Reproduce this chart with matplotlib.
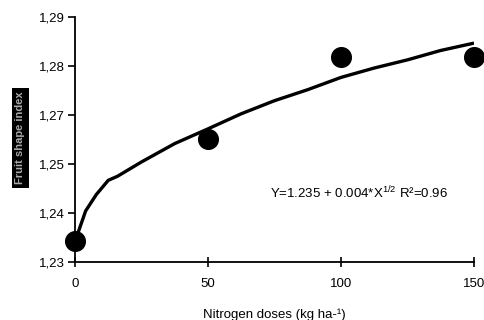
import matplotlib
matplotlib.use('Agg')
import matplotlib.pyplot as plt

plt.rcParams['font.family'] = ['Liberation Sans', 'DejaVu Sans']
plt.rcParams['mathtext.fontset'] = 'custom'
plt.rcParams['mathtext.rm'] = 'Liberation Sans'
plt.rcParams['mathtext.default'] = 'regular'

# observed means
doses = [0, 50, 100, 150]
fruit_index = [1.2352, 1.2601, 1.2802, 1.2802]

# fitted curve as drawn
curve_x = [0, 4, 8, 12.5, 16, 25, 37.5, 50, 62.5, 75, 87.5, 100, 112.5, 125, 137.5, 150]
curve_y = [1.235, 1.2425, 1.2465, 1.2500, 1.2510, 1.2545, 1.2590, 1.2626, 1.2663,
           1.2695, 1.2722, 1.2752, 1.2775, 1.2795, 1.2818, 1.2836]

y_ticks = [1.23, 1.242, 1.254, 1.266, 1.278, 1.29]
x_ticks = [0, 50, 100, 150]

fig = plt.figure(figsize=(4.85, 3.2), dpi=100)
ax = fig.add_axes([0.1546, 0.18125, 0.8227, 0.7657])

ax.plot(curve_x, curve_y, color='black', lw=2.4, solid_capstyle='butt', zorder=2)
ax.scatter(doses, fruit_index, s=200, color='black', zorder=3, clip_on=False)

ax.set_xlim(0, 150)
ax.set_ylim(1.23, 1.29)
ax.set_xticks(x_ticks)
ax.set_yticks(y_ticks)
ax.set_yticklabels([('%.2f' % v).replace('.', ',') for v in y_ticks])

for s in ['top', 'right']:
    ax.spines[s].set_visible(False)
for s in ['left', 'bottom']:
    ax.spines[s].set_linewidth(1.3)

ax.tick_params(axis='x', direction='inout', length=7, width=1.2, pad=8, labelsize=9.5)
ax.tick_params(axis='y', direction='out', length=5, width=1.2, pad=2, labelsize=9.5)

ax.set_xlabel('Nitrogen doses (kg ha-¹)', fontsize=9.5, labelpad=13)

ax.text(0.49, 0.282, 'Y=1.235 + 0.004*X$^{1/2}$ R²=0.96', transform=ax.transAxes,
        fontsize=9.5, ha='left', va='center')

fig.text(0.042, 0.569, 'Fruit shape index', rotation=90, ha='center', va='center',
         fontsize=8, color='#aaaaaa', weight='bold',
         bbox=dict(boxstyle='square,pad=0.3', facecolor='black', edgecolor='none'))

fig.savefig('out.png', dpi=100)
